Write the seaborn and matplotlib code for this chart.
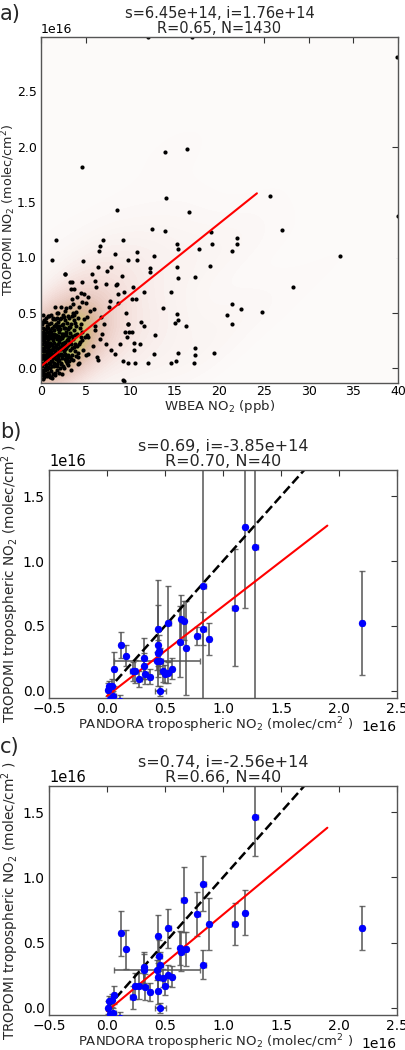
import numpy as np
import pandas as pd
import seaborn as sns
import matplotlib.pyplot as plt
from matplotlib.colors import LinearSegmentedColormap

# ---- panel a : WBEA surface NO2 vs TROPOMI column ----
wbea_ppb = [
    # dense cluster near the origin
    0.1, 0.2, 0.3, 0.4, 0.5, 0.6, 0.7, 0.8, 0.9, 1.0,
    1.1, 1.2, 1.3, 1.4, 1.5, 1.6, 1.7, 1.8, 1.9, 2.0,
    2.1, 2.2, 2.3, 2.4, 2.5, 2.6, 2.7, 2.8, 2.9, 3.0,
    3.1, 3.2, 3.3, 3.4, 3.5, 3.6, 3.7, 3.8, 3.9, 4.0,
    0.15, 0.35, 0.55, 0.75, 0.95, 1.15, 1.35, 1.55, 1.75, 1.95,
    0.25, 0.45, 0.65, 0.85, 1.05, 1.25, 1.45, 1.65, 1.85, 2.05,
    0.05, 0.12, 0.22, 0.32, 0.62, 0.92, 1.22, 1.52, 1.82, 2.12,
    2.25, 2.45, 2.65, 2.85, 3.05, 3.25, 3.45, 3.65, 3.85, 4.2,
    4.4, 4.6, 4.8, 5.0, 5.2, 5.5, 5.8, 6.0, 6.3, 6.6,
    0.08, 0.18, 0.28, 0.38, 0.48, 0.58, 0.68, 0.78, 0.88, 0.98,
    1.08, 1.18, 1.28, 1.38, 1.48, 1.58, 1.68, 1.78, 1.88, 1.98,
    0.03, 0.07, 0.11, 0.14, 0.19, 0.23, 0.27, 0.31, 0.36, 0.41,
    0.44, 0.49, 0.53, 0.57, 0.61, 0.66, 0.71, 0.74, 0.79, 0.83,
    0.87, 0.91, 0.96, 1.02, 1.06, 1.11, 1.16, 1.21, 1.26, 1.31,
    1.36, 1.41, 1.46, 1.51, 1.56, 1.61, 1.66, 1.71, 1.76, 1.81,
    1.86, 1.91, 1.96, 2.02, 2.08, 2.14, 2.19, 2.24, 2.29, 2.34,
    2.39, 2.44, 2.49, 2.54, 2.59, 2.64, 2.69, 2.74, 2.79, 2.84,
    2.89, 2.94, 2.99, 3.08, 3.15, 3.22, 3.30, 3.38, 3.47, 3.55,
    3.63, 3.72, 3.80, 3.90, 4.05, 4.15, 4.30, 4.45, 4.55, 4.70,
    0.02, 0.06, 0.09, 0.13, 0.17, 0.21, 0.26, 0.29, 0.34, 0.39,
    0.43, 0.47, 0.52, 0.56, 0.60, 0.64, 0.69, 0.73, 0.77, 0.82,
    0.86, 0.90, 0.94, 1.00, 1.04, 1.09, 1.14, 1.19, 1.24, 1.29,
    1.34, 1.39, 1.44, 1.49, 1.54, 1.59, 1.64, 1.69, 1.74, 1.79,
    1.84, 1.89, 1.94, 2.00, 2.06, 2.11, 2.17, 2.22, 2.27, 2.32,
    2.37, 2.42, 2.47, 2.52, 2.57, 2.62, 2.67, 2.72, 2.77, 2.82,
    2.87, 2.92, 2.97, 3.03, 3.12, 3.18, 3.27, 3.35, 3.42, 3.52,
    3.60, 3.68, 3.77, 3.95, 4.10, 4.25, 4.35, 4.50, 4.65, 4.90,
    # middle cloud
    2.65, 3.66, 4.07, 5.3, 5.0, 6.2, 5.9, 7.1, 7.6, 8.6,
    9.7, 9.45, 9.9, 8.8, 7.9, 7.3, 6.4, 5.3, 5.3, 6.1,
    6.8, 4.3, 6.75, 7.7, 8.4, 3.2, 4.5, 5.1, 8.3, 9.2,
    4.1, 3.4, 2.3, 9.2, 1.15, 0.8,
    10.4, 11.1, 11.6, 11.2, 10.4, 10.2, 9.6, 9.7, 9.5, 9.3,
    10.3, 11.6, 10.2, 10.7, 9.1, 8.5, 8.6, 7.4, 7.9, 6.4,
    6.0, 7.3, 5.7, 2.7, 3.5, 4.6, 3.4, 4.8,
    # sparse points / outliers
    39.9, 40.0, 13.9, 16.4, 4.63, 25.7, 14.0, 16.6, 8.5, 27.0,
    12.4, 13.9, 19.0, 22.0, 22.0, 19.2, 21.4, 15.2, 15.4, 17.7,
    33.5, 1.68, 1.27, 4.7, 9.2, 7.0, 6.6, 6.5, 8.3, 10.8,
    10.8, 9.8, 12.7, 15.2, 18.9, 12.2, 12.2, 17.3, 15.4, 28.3,
    14.6, 21.4, 22.4, 24.8, 20.9, 21.4, 15.2, 15.4, 15.0, 16.2,
    13.7, 12.8, 17.3, 17.3, 17.2, 19.4, 15.4, 15.1, 14.6, 12.7,
    12.0, 10.5, 9.8, 9.3, 12.0, 16.9,
]
tropomi_a = [
    0.02, -0.05, 0.10, 0.05, -0.02, 0.15, 0.08, 0.01, 0.20, 0.12,
    -0.03, 0.06, 0.18, 0.25, 0.10, 0.03, 0.30, 0.14, 0.22, 0.07,
    0.35, 0.17, 0.27, 0.09, 0.40, 0.21, 0.13, 0.33, 0.05, 0.26,
    0.45, 0.16, 0.37, 0.08, 0.29, 0.50, 0.19, 0.41, 0.11, 0.31,
    0.25, 0.30, 0.35, 0.28, 0.40, 0.33, 0.45, 0.38, 0.50, 0.42,
    0.15, 0.20, 0.24, 0.12, 0.27, 0.16, 0.02, 0.21, 0.06, 0.24,
    0.08, 0.40, 0.48, -0.08, -0.07, -0.06, -0.09, -0.04, -0.02, 0.00,
    0.45, 0.31, 0.52, 0.18, 0.12, 0.24, 0.47, 0.34, 0.22, 0.14,
    0.36, 0.25, 0.44, 0.12, 0.30, 0.52, 0.20, 0.38, 0.10, 0.26,
    0.18, 0.33, 0.05, 0.43, 0.12, 0.27, 0.38, 0.19, 0.30, 0.04,
    0.48, 0.22, 0.36, 0.09, 0.31, 0.55, 0.12, 0.26, 0.35, 0.16,
    0.12, 0.30, -0.02, 0.22, 0.09, 0.36, -0.10, 0.17, 0.26, 0.00,
    0.32, 0.07, 0.19, 0.42, 0.03, 0.13, 0.29, -0.04, 0.36, 0.10,
    0.23, 0.47, 0.16, 0.34, 0.00, 0.21, 0.41, 0.11, 0.29, -0.05,
    0.17, 0.38, 0.23, 0.05, 0.30, 0.44, 0.08, 0.19, 0.37, 0.02,
    0.27, 0.50, 0.11, 0.33, 0.19, 0.44, 0.05, 0.28, 0.13, 0.39,
    0.22, 0.02, 0.29, 0.15, 0.46, 0.08, 0.36, 0.24, 0.54, 0.11,
    0.41, 0.20, 0.35, 0.03, 0.28, 0.55, 0.10, 0.40, 0.18, 0.58,
    0.07, 0.43, 0.30, 0.51, 0.20, 0.45, 0.05, 0.28, 0.60, 0.16,
    0.40, -0.06, 0.27, 0.05, 0.15, -0.03, 0.42, 0.24, 0.12, 0.35,
    -0.05, 0.28, 0.45, 0.09, 0.22, 0.33, -0.01, 0.16, 0.47, 0.26,
    0.05, 0.14, 0.33, 0.23, -0.08, 0.14, 0.06, 0.30, 0.02, 0.44,
    0.27, 0.13, 0.34, 0.19, -0.06, 0.15, 0.28, 0.40, 0.04, 0.18,
    0.45, 0.08, 0.29, -0.04, 0.38, 0.12, 0.26, 0.55, 0.04, 0.20,
    0.31, 0.48, 0.12, 0.23, 0.36, 0.00, 0.17, 0.43, 0.30, 0.06,
    0.25, 0.09, 0.47, 0.21, 0.37, 0.06, 0.32, 0.22, 0.62, 0.12,
    0.26, 0.48, 0.15, 0.38, 0.10, 0.55, 0.24, 0.40, 0.33, 0.28,
    0.85, 0.71, 0.645, 0.645, 0.585, 0.735, 0.53, 0.40, 0.55, 0.59,
    0.40, 0.33, 0.33, 0.22, 0.16, 0.22, 0.07, 0.13, 0.28, 0.34,
    0.31, 0.22, 0.46, 0.61, 0.75, 0.78, 0.675, 0.46, 0.13, 0.06,
    0.04, -0.02, -0.05, -0.11, -0.08, -0.04,
    0.16, 0.22, 0.38, 0.42, 0.23, 0.33, 0.28, 0.40, 0.50, 0.69,
    0.73, 0.69, 0.62, 0.62, 0.835, 0.76, 0.67, 0.88, 0.91, 0.91,
    0.79, 0.76, 0.85, 0.85, 0.78, 0.78, 0.71, 0.67,
    2.81, 1.37, 1.95, 1.98, 1.82, 1.555, 1.54, 1.41, 1.43, 1.245,
    1.26, 1.24, 1.23, 1.175, 1.12, 1.12, 1.055, 1.12, 1.08, 1.08,
    1.015, 1.155, 0.98, 0.97, 1.16, 1.16, 1.10, 1.06, 1.03, 1.05,
    0.98, 0.98, 1.015, 0.91, 0.92, 0.90, 0.87, 0.82, 0.81, 0.73,
    0.69, 0.58, 0.53, 0.51, 0.48, 0.395, 0.49, 0.43, 0.41, 0.38,
    0.54, 0.30, 0.18, 0.12, 0.045, 0.14, 0.14, 0.06, 0.05, 0.13,
    0.05, 0.05, 0.05, -0.115, 2.99, 2.99,
]
fit_a_x = [0, 24.2]
slope_a, icpt_a = 6.45e14, 1.76e14

# ---- panels b/c : PANDORA vs TROPOMI tropospheric NO2 (units 1e16 molec/cm2) ----
pandora = [0.01, 0.02, 0.04, 0.05, 0.06, 0.11, 0.12, 0.16, 0.22, 0.24,
           0.28, 0.32, 0.32, 0.33, 0.37, 0.43, 0.44, 0.44, 0.44, 0.45,
           0.46, 0.46, 0.48, 0.50, 0.53, 0.53, 0.56, 0.63, 0.64, 0.66,
           0.68, 0.78, 0.83, 0.83, 0.88, 1.10, 1.19, 1.28, 2.20, 0.03]
pandora_err = [0.015, 0.015, 0.015, 0.03, 0.015, 0.015, 0.015, 0.015, 0.02, 0.02,
               0.02, 0.02, 0.02, 0.02, 0.02, 0.37, 0.02, 0.02, 0.02, 0.02,
               0.02, 0.05, 0.02, 0.02, 0.02, 0.02, 0.02, 0.02, 0.02, 0.02,
               0.02, 0.02, 0.02, 0.02, 0.02, 0.02, 0.02, 0.02, 0.02, 0.015]
trop_b = [0.01, 0.04, 0.04, -0.04, 0.17, -0.08, 0.35, 0.27, 0.15, 0.15,
          0.09, 0.25, 0.19, 0.13, 0.11, 0.23, 0.48, 0.35, 0.29, 0.31,
          0.23, 0.00, 0.15, 0.13, 0.14, 0.52, 0.17, 0.38, 0.55, 0.54,
          0.33, 0.42, 0.81, 0.48, 0.40, 0.64, 1.26, 1.11, 0.52, -0.06]
trop_b_err = [0.05, 0.04, 0.05, 0.04, 0.13, 0.05, 0.10, 0.08, 0.07, 0.09,
              0.06, 0.16, 0.10, 0.08, 0.06, 0.07, 0.37, 0.31, 0.10, 0.12,
              0.10, 0.04, 0.08, 0.07, 0.08, 0.29, 0.08, 0.27, 0.19, 0.15,
              0.36, 0.07, 2.00, 0.13, 0.12, 0.45, 0.62, 1.50, 0.40, 0.05]
trop_c = [0.00, 0.05, 0.06, -0.04, 0.10, -0.08, 0.57, 0.45, 0.08, 0.17,
          0.17, 0.31, 0.29, 0.16, 0.12, 0.29, 0.55, 0.24, 0.13, 0.40,
          0.33, 0.00, 0.23, 0.17, 0.25, 0.61, 0.24, 0.46, 0.43, 0.83,
          0.45, 0.72, 0.95, 0.33, 0.64, 0.64, 0.73, 1.46, 0.61, -0.05]
trop_c_err = [0.05, 0.04, 0.05, 0.04, 0.07, 0.05, 0.17, 0.15, 0.09, 0.10,
              0.10, 0.12, 0.12, 0.10, 0.07, 0.08, 0.16, 0.10, 0.10, 0.12,
              0.10, 0.04, 0.07, 0.07, 0.08, 0.15, 0.08, 0.13, 0.15, 0.25,
              0.13, 0.17, 0.21, 0.11, 0.20, 0.16, 0.17, 0.30, 0.17, 0.05]
fit_bc_x = [0.0, 1.9]
one_to_one = [0.0, 2.0]
fits = {'b': (0.69, -3.85e14, 0.70), 'c': (0.74, -2.56e14, 0.66)}

sns.set_style('white')
plt.rcParams.update({
    'font.family': ['DejaVu Sans'],
    'xtick.direction': 'in', 'ytick.direction': 'in',
    'xtick.top': True, 'ytick.right': True,
    'xtick.major.size': 4, 'ytick.major.size': 4,
    'xtick.major.pad': 2.5, 'ytick.major.pad': 3,
    'axes.edgecolor': '#555555', 'axes.linewidth': 1.0,
})

fig = plt.figure(figsize=(4.06, 10.5), dpi=100)

# ---------------- a ----------------
ax = fig.add_axes([0.101, 0.6352, 0.879, 0.3295])
ax.set_facecolor('#fcfaf9')
dfa = pd.DataFrame({'wbea': wbea_ppb, 'trop': np.array(tropomi_a) * 1e16})
cmap = LinearSegmentedColormap.from_list(
    'dens', ['#fcfaf9', '#f4dfdb', '#e9cbc2', '#dab79a', '#c9c26c', '#93b446'])
sns.kdeplot(data=dfa, x='wbea', y='trop', fill=True, cmap=cmap, levels=40,
            thresh=0.002, bw_adjust=1.4, ax=ax)
sns.scatterplot(data=dfa, x='wbea', y='trop', color='black', s=9,
                linewidth=0, ax=ax)
fa = np.array(fit_a_x)
sns.lineplot(x=fa, y=slope_a * fa + icpt_a, color='red', linewidth=1.5, ax=ax)
ax.set_xlim(0, 40)
ax.set_ylim(-0.135e16, 2.99e16)
ax.set_xticks([0, 5, 10, 15, 20, 25, 30, 35, 40])
ax.set_yticks(np.array([0, 0.5, 1.0, 1.5, 2.0, 2.5]) * 1e16)
ax.tick_params(labelsize=9, colors='#333333', labelcolor='black')
ax.tick_params(axis='x', pad=1.5)
ax.yaxis.get_offset_text().set_fontsize(9)
ax.set_xlabel('WBEA NO$_2$ (ppb)', fontsize=9.5)
ax.xaxis.set_label_coords(0.5, -0.044)
ax.set_ylabel('TROPOMI NO$_2$ (molec/cm$^2$)', fontsize=9.2)
ax.yaxis.set_label_coords(-0.065, 0.5)
ax.set_title('s=6.45e+14, i=1.76e+14\nR=0.65, N=1430', fontsize=10.5,
             linespacing=1.0, pad=3)
fig.text(0.0, 0.987, 'a)', fontsize=15, va='center')

# ---------------- b, c ----------------
xs = np.array(pandora) * 1e16
xe = np.array(pandora_err) * 1e16
for key, ys, ye, rect, lab_y in [('b', trop_b, trop_b_err, [0.1207, 0.3352, 0.857, 0.2171], 0.589),
                                 ('c', trop_c, trop_c_err, [0.1207, 0.0333, 0.857, 0.2181], 0.289)]:
    ax = fig.add_axes(rect)
    ys = np.array(ys) * 1e16
    ax.errorbar(xs, ys, xerr=xe, yerr=np.array(ye) * 1e16, fmt='none',
                ecolor='#555555', elinewidth=1.3, capsize=2, capthick=1, alpha=0.85)
    sns.lineplot(x=np.array(one_to_one) * 1e16, y=np.array(one_to_one) * 1e16,
                 color='black', linestyle='--', linewidth=1.8, ax=ax)
    s, i, r = fits[key]
    fx = np.array(fit_bc_x) * 1e16
    sns.lineplot(x=fx, y=s * fx + i, color='red', linewidth=1.5, ax=ax)
    sns.scatterplot(x=xs, y=ys, color='blue', s=28, linewidth=0, zorder=5, ax=ax)
    ax.set_xlim(-0.5e16, 2.5e16)
    ax.set_ylim(-0.055e16, 1.7e16)
    ax.set_xticks(np.array([-0.5, 0, 0.5, 1.0, 1.5, 2.0, 2.5]) * 1e16)
    ax.set_yticks(np.array([0, 0.5, 1.0, 1.5]) * 1e16)
    ax.tick_params(labelsize=10, colors='#333333', labelcolor='black')
    ax.xaxis.get_offset_text().set_fontsize(10)
    ax.yaxis.get_offset_text().set_fontsize(10.5)
    ax.set_xlabel('PANDORA tropospheric NO$_2$ (molec/cm$^2$ )', fontsize=9.5)
    ax.xaxis.set_label_coords(0.48, -0.074)
    ax.set_ylabel('TROPOMI tropospheric NO$_2$ (molec/cm$^2$ )', fontsize=9.8)
    ax.yaxis.set_label_coords(-0.08, 0.5)
    ax.set_title('s=%.2f, i=%.2e\nR=%.2f, N=40' % (s, i, r), fontsize=11.5,
                 linespacing=1.0, pad=3)
    fig.text(0.0, lab_y, key + ')', fontsize=15, va='center')

fig.savefig('out.png', dpi=100)
